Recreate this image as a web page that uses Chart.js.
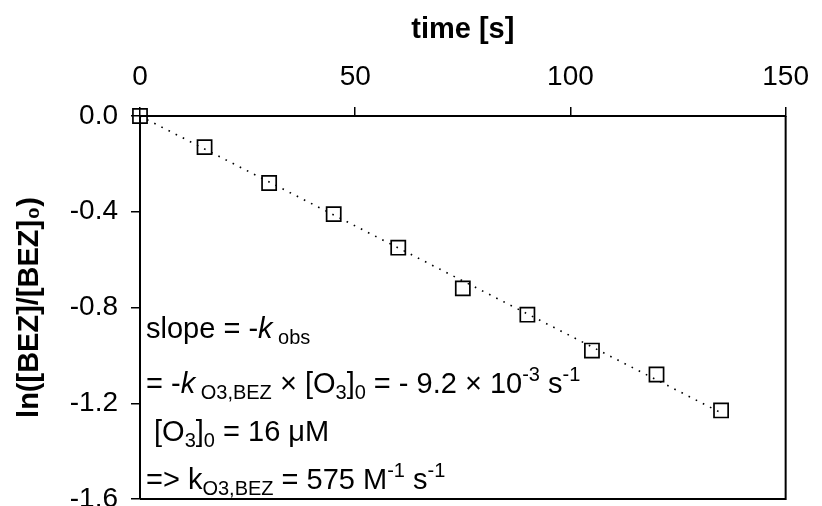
<!DOCTYPE html>
<html>
<head>
<meta charset="utf-8">
<script src="https://cdn.jsdelivr.net/npm/chart.js@4/dist/chart.umd.min.js"></script>
<style>
  body { margin: 0; overflow: hidden; background: #fff; }
  #wrap { width: 822px; height: 540px; }
</style>
</head>
<body>
<div id="wrap"><canvas id="chart"></canvas></div>
<script>
'use strict';

// measured points
var timeValues = [0, 15, 30, 45, 60, 75, 90, 105, 120, 135];
var lnRatio = [0, -0.13, -0.28, -0.41, -0.55, -0.72, -0.83, -0.98, -1.08, -1.23];

// dotted fit line
var fitTime = [0, 135];
var fitValues = [0, -1.24];

var xTickValues = [0, 50, 100, 150];
var yTickValues = [0, -0.4, -0.8, -1.2, -1.6];

var xTitle = 'time [s]';
var yTitle = 'ln([BEZ]/[BEZ]\u2080)';

// text box, one entry per line: [text, style]
var noteLines = [
  [['slope = -', 'n'], ['k', 'i'], [' obs', 'sub']],
  [['= -', 'n'], ['k', 'i'], [' O3,BEZ', 'sub'], [' \u00d7 [O', 'n'], ['3', 'sub'], [']', 'n'], ['0', 'sub'],
   [' = - 9.2 \u00d7 10', 'n'], ['-3', 'sup'], [' s', 'n'], ['-1', 'sup']],
  [[' [O', 'n'], ['3', 'sub'], [']', 'n'], ['0', 'sub'], [' = 16 \u03bcM', 'n']],
  [['=> k', 'n'], ['O3,BEZ', 'sub'], [' = 575 M', 'n'], ['-1', 'sup'], [' s', 'n'], ['-1', 'sup']]
];

var FONT = '"Liberation Sans", Arial, sans-serif';

function toPoints(xs, ys) {
  var pts = [];
  for (var i = 0; i < xs.length; i++) {
    pts.push({x: xs[i], y: ys[i]});
  }
  return pts;
}

function drawRich(ctx, parts, x, y) {
  for (var i = 0; i < parts.length; i++) {
    var text = parts[i][0];
    var style = parts[i][1];
    var dy = 0;
    if (style === 'i') {
      ctx.font = 'italic 29px ' + FONT;
    } else if (style === 'sub') {
      ctx.font = '20px ' + FONT;
      dy = 6;
    } else if (style === 'sup') {
      ctx.font = '20px ' + FONT;
      dy = -12;
    } else {
      ctx.font = '29px ' + FONT;
    }
    ctx.fillText(text, x, y + dy);
    x += ctx.measureText(text).width;
  }
}

var frameAndNotes = {
  id: 'frameAndNotes',
  afterDraw: function(chart) {
    var ctx = chart.ctx;
    var a = chart.chartArea;
    ctx.save();
    ctx.strokeStyle = '#000';
    ctx.lineWidth = 2;
    ctx.beginPath();
    ctx.moveTo(a.right, a.top);
    ctx.lineTo(a.right, a.bottom);
    ctx.lineTo(a.left, a.bottom);
    ctx.stroke();

    ctx.fillStyle = '#000';
    ctx.textBaseline = 'alphabetic';
    ctx.textAlign = 'left';
    var baselines = [338, 393, 441, 489];
    for (var i = 0; i < noteLines.length; i++) {
      drawRich(ctx, noteLines[i], a.left + 6, baselines[i]);
    }
    ctx.restore();
  }
};

function makeChart() {
  var ctx = document.getElementById('chart').getContext('2d');
  var myChart = new Chart(ctx, {
    type: 'scatter',
    data: {
      datasets: [{
        label: 'fit',
        data: toPoints(fitTime, fitValues),
        showLine: true,
        borderColor: '#000',
        borderWidth: 1.6,
        borderDash: [1.6, 6.4],
        pointRadius: 0,
        clip: false,
        order: 0
      }, {
        label: 'ln ratio',
        data: toPoints(timeValues, lnRatio),
        pointStyle: 'rect',
        pointRadius: 10,
        pointBorderWidth: 1.7,
        pointBorderColor: '#000',
        pointBackgroundColor: 'rgba(0,0,0,0)',
        clip: false,
        order: 1
      }]
    },
    plugins: [frameAndNotes],
    options: {
      responsive: true,
      maintainAspectRatio: false,
      animation: false,
      layout: {
        autoPadding: false,
        padding: {left: 0, top: 0, right: 29, bottom: 41}
      },
      plugins: {
        legend: {display: false},
        tooltip: {enabled: false}
      },
      scales: {
        x: {
          type: 'linear',
          position: 'top',
          min: 0,
          max: 150,
          afterBuildTicks: function(scale) {
            scale.ticks = xTickValues.map(function(v) { return {value: v}; });
          },
          afterFit: function(scale) { scale.height = 116; },
          grid: {drawOnChartArea: false, tickLength: 9, color: '#000', lineWidth: 1.5},
          border: {display: true, color: '#000', width: 2},
          ticks: {
            color: '#000',
            padding: 13,
            maxRotation: 0,
            font: {family: FONT, size: 28}
          },
          title: {
            display: true,
            text: xTitle,
            color: '#000',
            padding: {top: 13, bottom: 0},
            font: {family: FONT, size: 29, weight: 'bold'}
          }
        },
        y: {
          type: 'linear',
          position: 'left',
          min: -1.6,
          max: 0,
          afterBuildTicks: function(scale) {
            scale.ticks = yTickValues.map(function(v) { return {value: v}; });
          },
          afterFit: function(scale) { scale.width = 140; },
          grid: {drawOnChartArea: false, tickLength: 9, color: '#000', lineWidth: 1.5},
          border: {display: true, color: '#000', width: 2},
          ticks: {
            color: '#000',
            padding: 13,
            font: {family: FONT, size: 28},
            callback: function(v) { return Number(v).toFixed(1); }
          },
          title: {
            display: true,
            text: yTitle,
            color: '#000',
            padding: {top: 13, bottom: 0},
            font: {family: FONT, size: 29, weight: 'bold'}
          }
        }
      }
    }
  });
  return myChart;
}

makeChart();
</script>
</body>
</html>
